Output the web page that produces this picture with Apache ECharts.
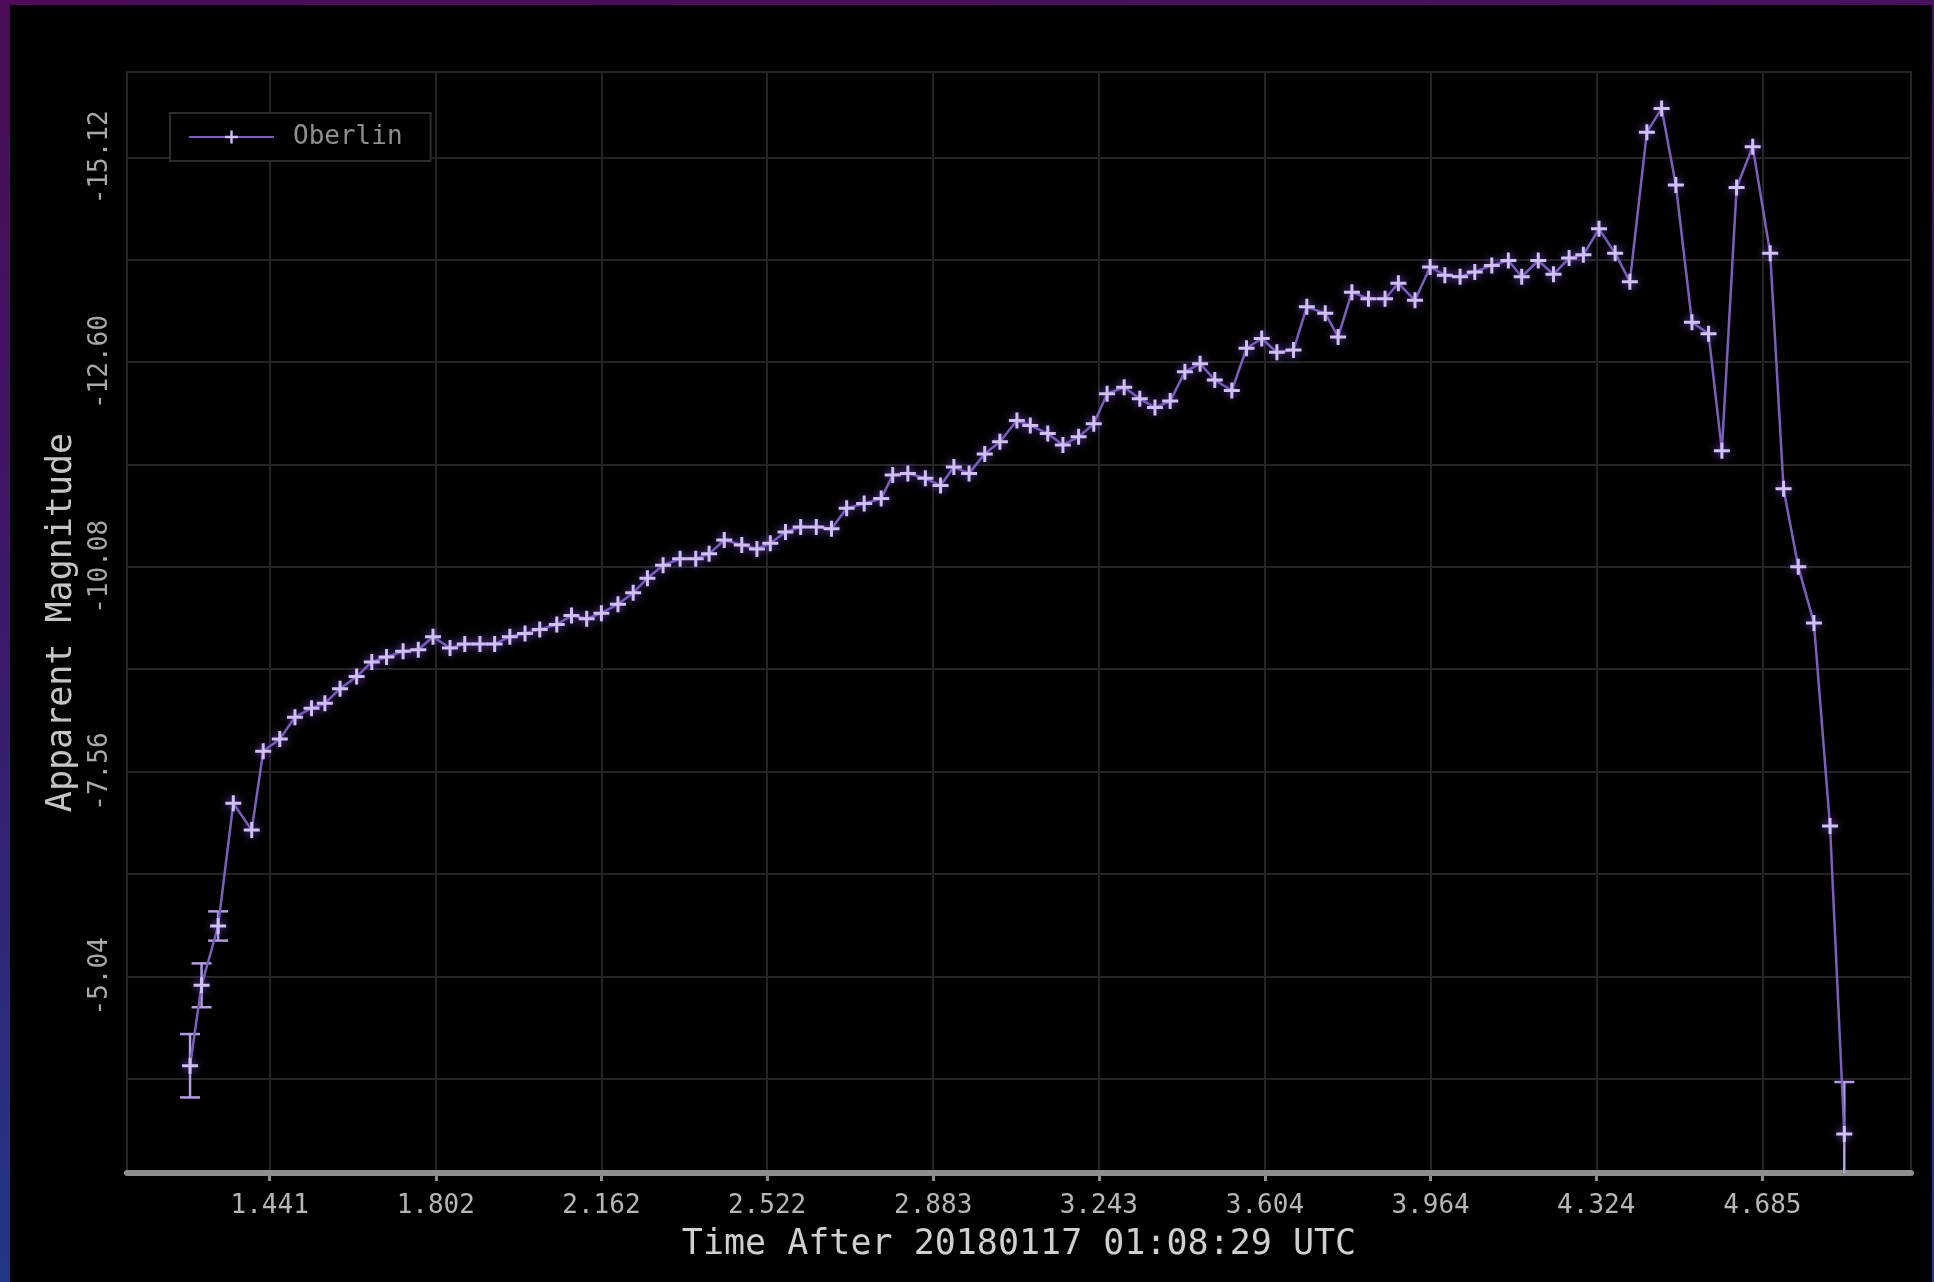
<!DOCTYPE html>
<html>
<head>
<meta charset="utf-8">
<script src="https://cdn.jsdelivr.net/npm/echarts@6/dist/echarts.min.js"></script>
<style>
  html, body { margin: 0; padding: 0; width: 1934px; height: 1282px; overflow: hidden; }
  body { background: linear-gradient(172deg, #4d0d57 0%, #3d1869 40%, #263384 75%, #1c3c8e 100%); }
  #frame { position: absolute; left: 10px; top: 5px; width: 1922px; height: 1277px; background: #000; }
  #chart { width: 1922px; height: 1277px; }
</style>
</head>
<body>
<div id="frame"><div id="chart"></div></div>
<script>
// Time after 20180117 01:08:29 UTC
const times = [
  1.268, 1.293, 1.329, 1.362, 1.402, 1.427, 1.463, 1.496, 1.532, 1.561,
  1.594, 1.630, 1.663, 1.695, 1.731, 1.764, 1.796, 1.833, 1.865, 1.898,
  1.930, 1.963, 1.996, 2.028, 2.065, 2.097, 2.130, 2.162, 2.198, 2.231,
  2.262, 2.296, 2.333, 2.367, 2.396, 2.429, 2.467, 2.500, 2.529, 2.562,
  2.595, 2.629, 2.662, 2.695, 2.733, 2.770, 2.795, 2.828, 2.866, 2.899,
  2.928, 2.961, 2.995, 3.028, 3.065, 3.094, 3.132, 3.165, 3.199, 3.232,
  3.261, 3.298, 3.332, 3.365, 3.398, 3.430, 3.463, 3.495, 3.532, 3.564,
  3.597, 3.630, 3.666, 3.695, 3.735, 3.763, 3.793, 3.829, 3.865, 3.894,
  3.930, 3.963, 3.995, 4.028, 4.060, 4.097, 4.133, 4.162, 4.198, 4.231,
  4.265, 4.296, 4.330, 4.365, 4.397, 4.434, 4.466, 4.497, 4.532, 4.568,
  4.597, 4.629, 4.664, 4.702, 4.731, 4.763, 4.797, 4.832, 4.863
];
// Apparent magnitude (Oberlin)
const mags = [
  -3.94, -4.93, -5.66, -7.17, -6.84, -7.81, -7.96, -8.23, -8.34, -8.40,
  -8.58, -8.73, -8.91, -8.97, -9.04, -9.06, -9.22, -9.08, -9.13, -9.13,
  -9.13, -9.22, -9.26, -9.31, -9.37, -9.48, -9.44, -9.51, -9.62, -9.76,
  -9.94, -10.10, -10.18, -10.18, -10.24, -10.41, -10.35, -10.30, -10.37, -10.51,
  -10.57, -10.57, -10.55, -10.80, -10.86, -10.92, -11.21, -11.23, -11.17, -11.08,
  -11.31, -11.23, -11.47, -11.62, -11.88, -11.82, -11.72, -11.58, -11.68, -11.84,
  -12.21, -12.29, -12.15, -12.04, -12.12, -12.48, -12.58, -12.38, -12.25, -12.77,
  -12.89, -12.72, -12.75, -13.28, -13.20, -12.91, -13.46, -13.38, -13.38, -13.57,
  -13.36, -13.77, -13.67, -13.65, -13.71, -13.79, -13.85, -13.65, -13.85, -13.68,
  -13.88, -13.92, -14.24, -13.94, -13.59, -15.43, -15.72, -14.78, -13.09, -12.95,
  -11.51, -14.75, -15.25, -13.94, -11.04, -10.08, -9.39, -6.89, -3.10
];
// Error bar half-heights (magnitudes); 0 = bar hidden inside the marker
const errs = [
  0.39, 0.27, 0.18, 0, 0, 0, 0, 0, 0, 0,
  0, 0, 0, 0, 0, 0, 0, 0, 0, 0,
  0, 0, 0, 0, 0, 0, 0, 0, 0, 0,
  0, 0, 0, 0, 0, 0, 0, 0, 0, 0,
  0, 0, 0, 0, 0, 0, 0, 0, 0, 0,
  0, 0, 0, 0, 0, 0, 0, 0, 0, 0,
  0, 0, 0, 0, 0, 0, 0, 0, 0, 0,
  0, 0, 0, 0, 0, 0, 0, 0, 0, 0,
  0, 0, 0, 0, 0, 0, 0, 0, 0, 0,
  0, 0, 0, 0, 0, 0, 0, 0, 0, 0,
  0, 0, 0, 0, 0, 0, 0, 0, 0.64
];
const xTicks = [1.441, 1.802, 2.162, 2.522, 2.883, 3.243, 3.604, 3.964, 4.324, 4.685];
const yLabelTicks = [-15.12, -12.60, -10.08, -7.56, -5.04];
const yGridTicks = [-15.12, -13.86, -12.60, -11.34, -10.08, -8.82, -7.56, -6.30, -5.04, -3.78];

const seriesName = 'Oberlin';
const xTitle = 'Time After 20180117 01:08:29 UTC';
const yTitle = 'Apparent Magnitude';

const MONO = 'DejaVu Sans Mono';
const plusPath = 'path://M6.5,0 H9.5 V6.5 H16 V9.5 H9.5 V16 H6.5 V9.5 H0 V6.5 H6.5 Z';

const lineData = times.map((t, i) => [t, mags[i]]);
const errData = times.map((t, i) => [t, mags[i], errs[i]]);

const chart = echarts.init(document.getElementById('chart'), null, { renderer: 'canvas' });
chart.setOption({
  animation: false,
  backgroundColor: '#000',
  grid: {
    left: 117, right: 21, top: 67, bottom: 109,
    show: true, borderColor: '#262626', borderWidth: 2, backgroundColor: 'transparent'
  },
  legend: {
    left: 160, top: 108,
    orient: 'horizontal',
    padding: [10, 28, 10, 18],
    borderColor: '#2c2c2c', borderWidth: 2,
    backgroundColor: '#000',
    itemWidth: 85, itemHeight: 16,
    textStyle: { color: '#8e8e8e', fontFamily: MONO, fontSize: 26, lineHeight: 28, padding: [0, 0, 0, 14] },
    data: [seriesName]
  },
  xAxis: {
    type: 'value',
    min: 1.131, max: 5.008,
    name: xTitle,
    nameLocation: 'middle',
    nameGap: 54,
    nameTextStyle: { color: '#cfcfcf', fontFamily: MONO, fontSize: 35 },
    axisLine: { show: true, onZero: false, lineStyle: { color: '#8e8e8e', width: 6 } },
    axisTick: { show: true, length: 8, customValues: xTicks, lineStyle: { color: '#8e8e8e', width: 3 } },
    axisLabel: {
      customValues: xTicks,
      formatter: v => v.toFixed(3),
      margin: 20,
      color: '#b6b6b6', fontFamily: MONO, fontSize: 26
    },
    splitLine: { show: true, lineStyle: { color: '#242424', width: 2 } }
  },
  yAxis: {
    type: 'value',
    inverse: true,
    min: -16.17, max: -2.62,
    name: yTitle,
    nameLocation: 'middle',
    nameRotate: 90,
    nameGap: 48,
    nameTextStyle: { color: '#c4c4c4', fontFamily: MONO, fontSize: 35 },
    axisLine: { show: false },
    axisTick: { show: false, customValues: yGridTicks },
    axisLabel: {
      customValues: yLabelTicks,
      formatter: v => v.toFixed(2),
      rotate: 90,
      margin: 14,
      color: '#a8a8a8', fontFamily: MONO, fontSize: 26
    },
    splitLine: { show: true, lineStyle: { color: '#242424', width: 2 } }
  },
  series: [
    {
      name: seriesName + ' err',
      type: 'custom',
      z: 3,
      silent: true,
      data: errData,
      renderItem: function (params, api) {
        const x = api.value(0), y = api.value(1), e = api.value(2);
        if (!(e > 0)) return null;
        const top = api.coord([x, y - e]);
        const bot = api.coord([x, y + e]);
        const cs = params.coordSys;
        const y1 = Math.max(cs.y, Math.min(cs.y + cs.height, top[1]));
        const y2 = Math.max(cs.y, Math.min(cs.y + cs.height, bot[1]));
        const cap = 10;
        const style = { stroke: '#b49ee4', lineWidth: 2.5 };
        const children = [
          { type: 'line', shape: { x1: top[0], y1: y1, x2: top[0], y2: y2 }, style: style }
        ];
        if (top[1] >= cs.y) children.push({ type: 'line', shape: { x1: top[0] - cap, y1: top[1], x2: top[0] + cap, y2: top[1] }, style: style });
        if (bot[1] <= cs.y + cs.height) children.push({ type: 'line', shape: { x1: bot[0] - cap, y1: bot[1], x2: bot[0] + cap, y2: bot[1] }, style: style });
        return { type: 'group', children: children };
      }
    },
    {
      name: seriesName,
      type: 'line',
      z: 4,
      data: lineData,
      symbol: plusPath,
      symbolSize: 16,
      showAllSymbol: true,
      lineStyle: { color: '#7a5fbb', width: 2.5 },
      itemStyle: { color: '#d2c0f4', shadowBlur: 8, shadowColor: 'rgba(120,80,210,0.9)' },
      emphasis: { disabled: true }
    }
  ]
});
</script>
</body>
</html>
